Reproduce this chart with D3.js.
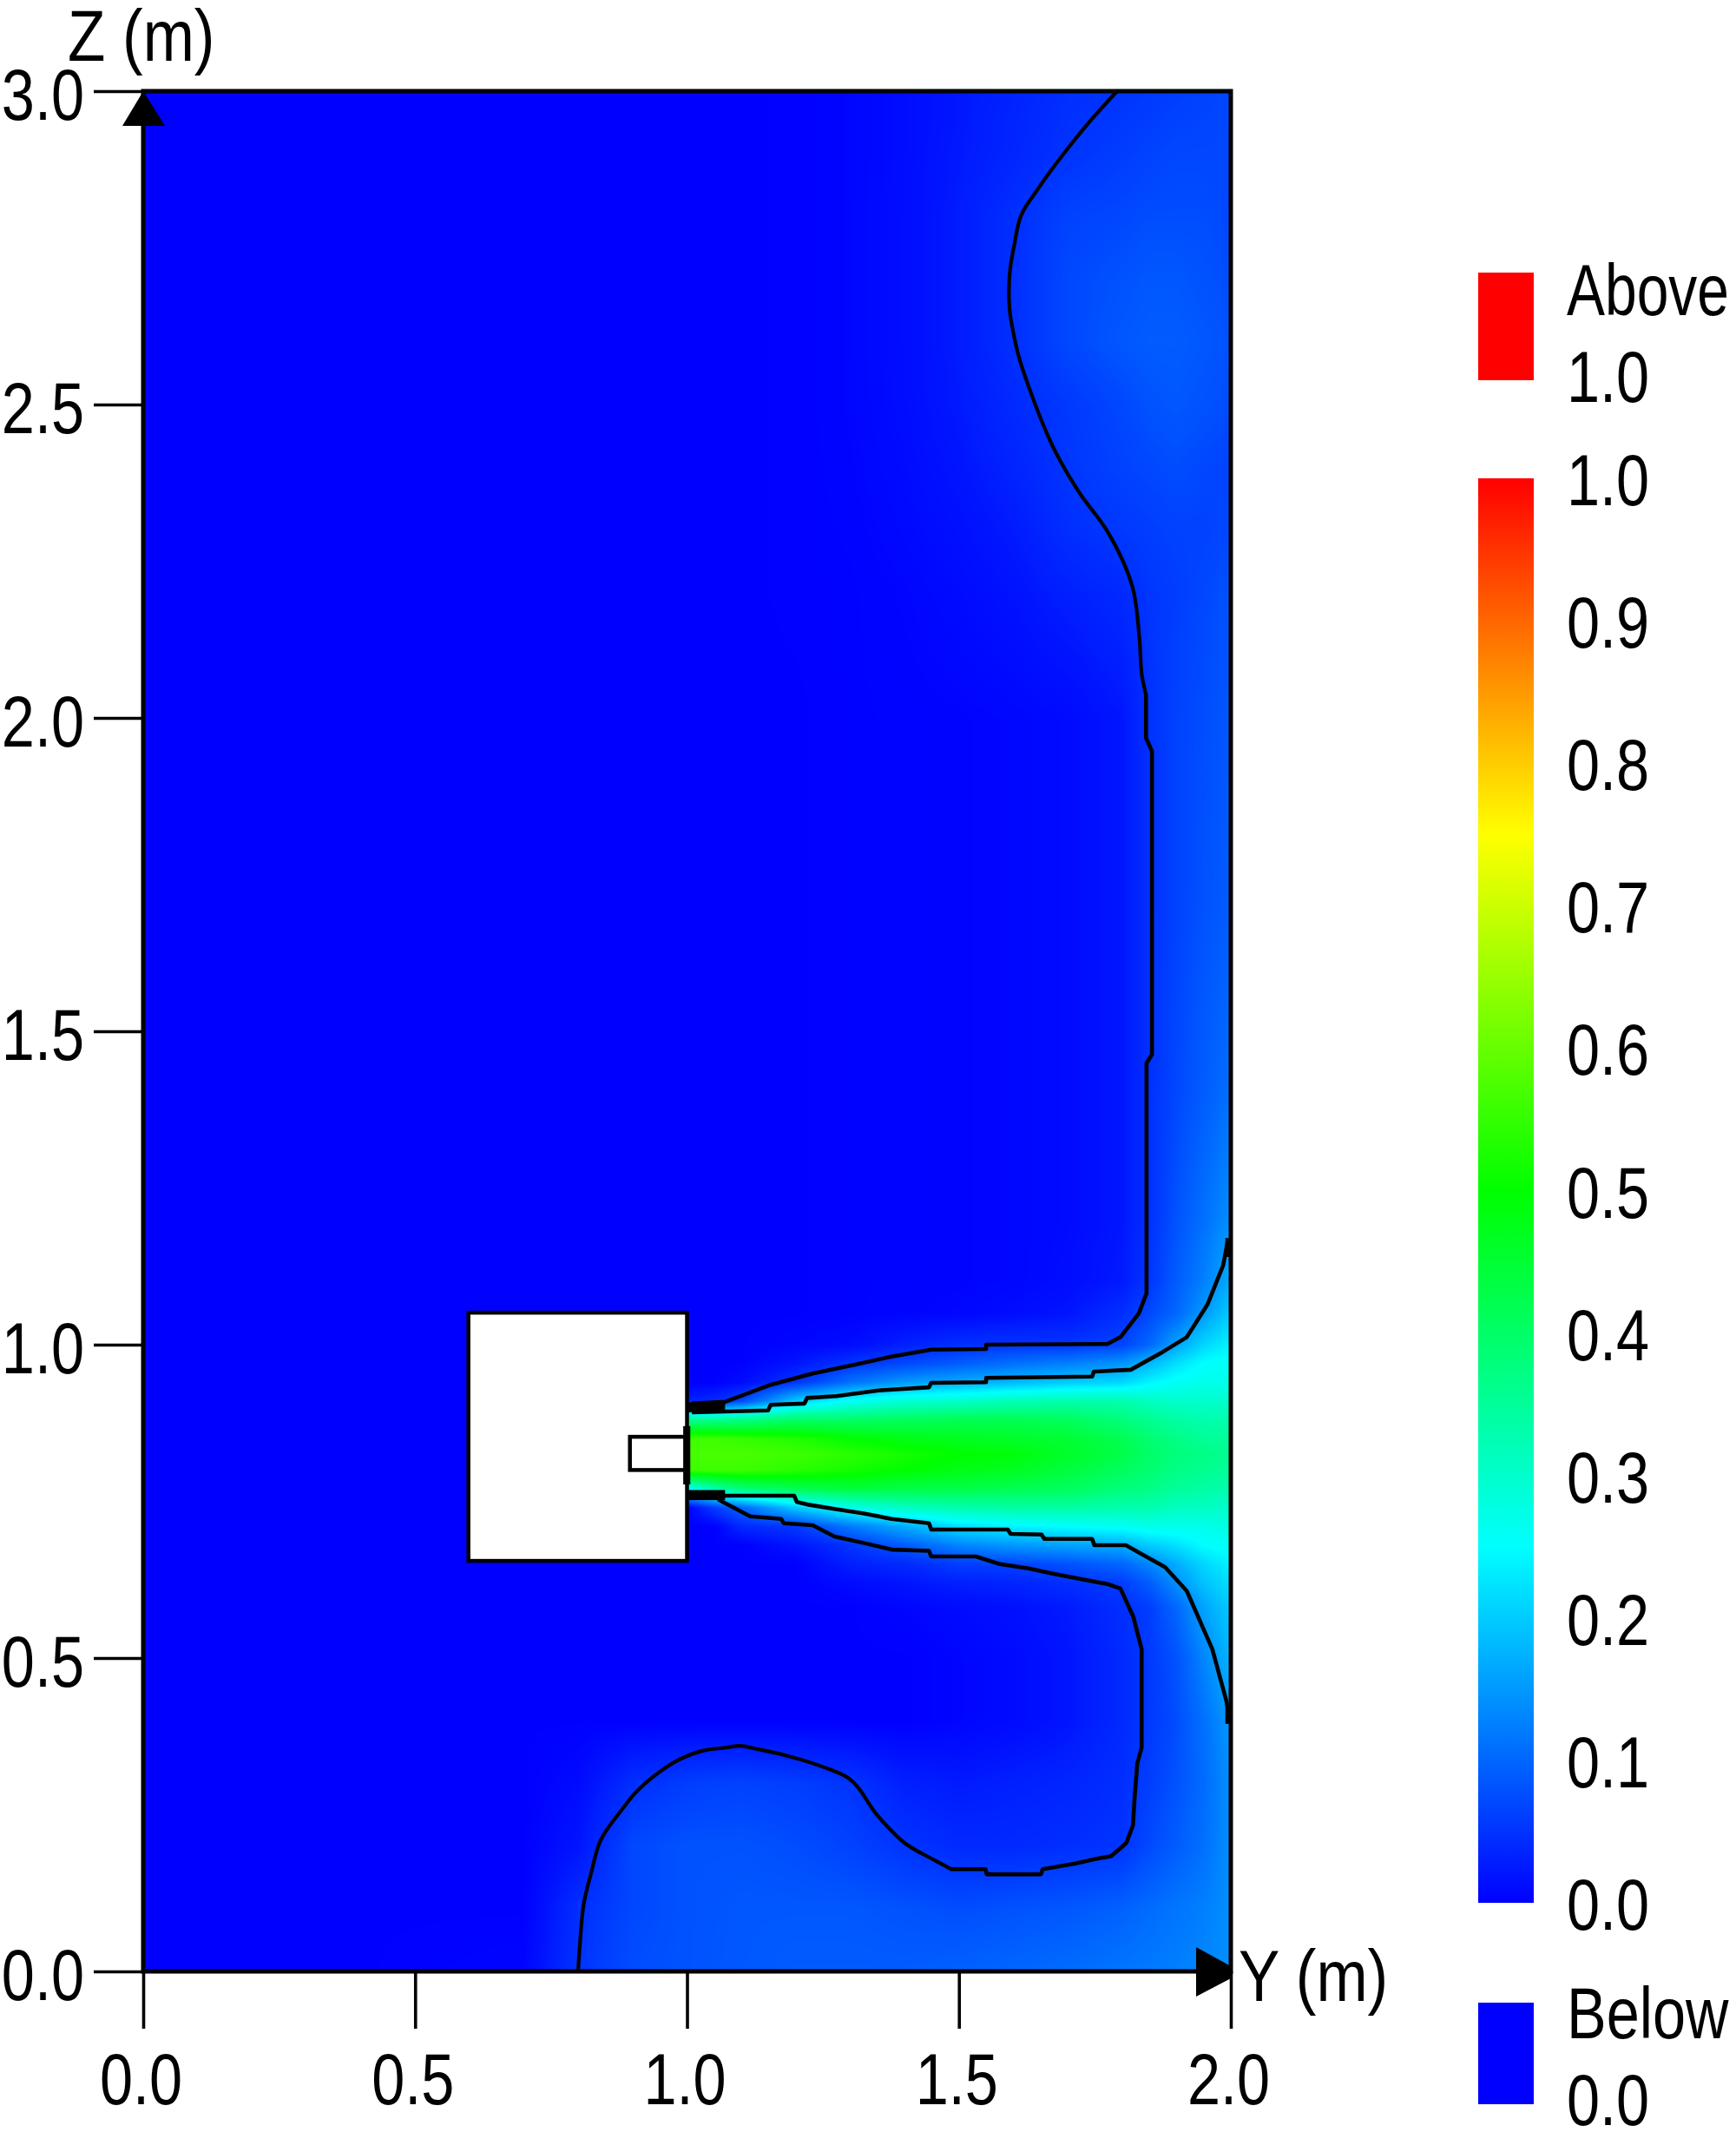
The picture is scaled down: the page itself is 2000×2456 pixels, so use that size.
<!DOCTYPE html>
<html><head><meta charset="utf-8">
<style>
html,body{margin:0;padding:0;background:#fff;width:2000px;height:2456px;overflow:hidden}
#wrap{position:relative;width:2000px;height:2456px}
canvas,svg{position:absolute;left:0;top:0}
text{font-family:"Liberation Sans",Arial,sans-serif;fill:#000}
</style>
<script src="https://cdn.jsdelivr.net/npm/d3@7"></script>
</head><body><div id="wrap"><canvas id="field"></canvas><svg id="chart" width="2000" height="2456"></svg></div>
<script>
// ---------- data (metres, and normalised concentration) ----------
const yTicks = [0, 0.5, 1.0, 1.5, 2.0];
const zTicks = [0, 0.5, 1.0, 1.5, 2.0, 2.5, 3.0];
const legendTicks = [0, 0.1, 0.2, 0.3, 0.4, 0.5, 0.6, 0.7, 0.8, 0.9, 1.0];
const colorStops = [0, 0.25, 0.5, 0.75, 1];
const colorValues = ["#0000ff", "#00ffff", "#00ff00", "#ffff00", "#ff0000"];

const gridY = [0, .4, .7, .8, .9, 1.0, 1.05, 1.1, 1.2, 1.3, 1.4, 1.5, 1.6, 1.7, 1.8, 1.85, 1.9, 1.95, 2.0];
const gridZ = [3.0, 2.9, 2.8, 2.7, 2.6, 2.5, 2.4, 2.3, 2.2, 2.0, 1.7, 1.4, 1.2, 1.1, 1.05, 1.0, .97, .94, .91, .88, .85, .825, .8, .77, .74, .71, .68, .65, .62, .58, .5, .4, .3, .2, .1, 0];
const fieldValues = [
[0,0,0,0,0,0,0,0,.001,.005,.012,.022,.033,.045,.05,.055,.06,.065,.07],
[0,0,0,0,0,0,0,0,.001,.005,.012,.024,.036,.05,.06,.065,.07,.07,.07],
[0,0,0,0,0,0,0,0,.001,.005,.013,.026,.045,.065,.07,.075,.075,.075,.07],
[0,0,0,0,0,0,0,0,.001,.005,.013,.026,.045,.07,.08,.085,.085,.08,.075],
[0,0,0,0,0,0,0,0,.001,.005,.013,.026,.045,.07,.085,.09,.09,.085,.08],
[0,0,0,0,0,0,0,0,.001,.005,.012,.024,.04,.055,.07,.08,.085,.08,.075],
[0,0,0,0,0,0,0,0,.001,.004,.01,.02,.034,.052,.065,.07,.075,.07,.065],
[0,0,0,0,0,0,0,0,.001,.003,.008,.015,.025,.045,.055,.06,.065,.065,.07],
[0,0,0,0,0,0,0,0,.001,.002,.005,.01,.018,.03,.04,.052,.06,.07,.08],
[0,0,0,0,0,0,0,0,0,.002,.003,.004,.006,.01,.022,.047,.065,.075,.085],
[0,0,0,0,0,0,0,0,0,.002,.003,.004,.006,.01,.022,.047,.065,.08,.09],
[0,0,0,0,0,0,0,0,0,.002,.003,.004,.006,.01,.022,.047,.07,.09,.11],
[0,0,0,0,0,0,0,0,0,.002,.003,.004,.006,.01,.022,.047,.08,.11,.14],
[0,0,0,0,0,0,0,0,0,.002,.003,.004,.006,.012,.025,.052,.09,.125,.17],
[0,0,0,0,0,0,0,0,0,.002,.004,.006,.012,.02,.045,.07,.1,.15,.2],
[0,0,0,0,0,0,0,0,.005,.01,.03,.045,.05,.05,.065,.1,.16,.21,.24],
[0,0,0,0,0,0,0,0,.02,.05,.07,.09,.11,.125,.145,.18,.22,.25,.26],
[0,0,0,0,0,0,0,.01,.05,.11,.15,.17,.18,.2,.21,.24,.26,.27,.27],
[0,0,0,0,0,.03,.04,.07,.2,.26,.29,.3,.32,.33,.33,.31,.3,.3,.3],
[0,0,0,0,0,.36,.36,.37,.4,.4,.41,.42,.42,.41,.38,.36,.34,.33,.33],
[0,0,0,0,0,.56,.56,.55,.53,.5,.48,.47,.46,.45,.42,.39,.37,.35,.35],
[0,0,0,0,0,.57,.57,.57,.56,.54,.52,.5,.49,.46,.43,.4,.38,.37,.36],
[0,0,0,0,0,.56,.56,.56,.54,.52,.5,.48,.47,.44,.41,.39,.37,.36,.35],
[0,0,0,0,0,.25,.33,.38,.42,.44,.43,.43,.42,.41,.38,.37,.35,.34,.33],
[0,0,0,0,0,0,.06,.1,.2,.27,.31,.33,.34,.34,.33,.33,.31,.31,.3],
[0,0,0,0,0,0,0,.04,.055,.12,.17,.22,.24,.25,.26,.27,.27,.27,.28],
[0,0,0,0,0,0,0,0,.02,.05,.09,.13,.15,.16,.17,.2,.22,.25,.26],
[0,0,0,0,0,0,0,0,0,.03,.04,.06,.065,.08,.1,.13,.17,.21,.24],
[0,0,0,0,0,0,0,0,0,.01,.02,.03,.035,.045,.06,.09,.14,.19,.22],
[0,0,0,0,0,0,0,0,0,0,.005,.01,.015,.025,.045,.06,.1,.16,.2],
[0,0,0,0,0,0,0,0,0,0,0,.005,.01,.02,.04,.055,.08,.13,.18],
[0,0,0,0,0,0,0,0,0,0,0,.005,.01,.02,.04,.055,.075,.11,.15],
[0,0,0,.01,.045,.06,.063,.065,.06,.05,.03,.025,.03,.035,.045,.06,.08,.105,.14],
[0,0,0,.02,.07,.08,.08,.08,.075,.065,.05,.04,.04,.045,.05,.072,.09,.11,.14],
[0,0,0,.045,.07,.08,.082,.085,.085,.085,.08,.075,.08,.085,.095,.105,.115,.125,.14],
[0,0,.005,.05,.075,.08,.083,.085,.09,.09,.09,.095,.1,.105,.115,.12,.125,.13,.14]
];

const contourTop = [[1.791,3.0],[1.737,2.948],[1.689,2.896],[1.647,2.846],[1.615,2.803],[1.601,2.751],[1.594,2.715],[1.592,2.68],[1.594,2.645],[1.6,2.615],[1.609,2.58],[1.631,2.522],[1.679,2.422],[1.721,2.36],[1.772,2.299],[1.82,2.206],[1.832,2.126],[1.837,2.065],[1.844,2.037]];
const contourUpperOuter = [[1.844,2.037],[1.844,1.968],[1.855,1.947],[1.855,1.463],[1.845,1.449],[1.845,1.082],[1.831,1.05],[1.797,1.012],[1.773,1.001],[1.55,1.0],[1.55,.993],[1.449,.992],[1.376,.981],[1.309,.968],[1.231,.954],[1.154,.936],[1.071,.909],[1.009,.906]];
const contourUpperInner = [[1.009,.892],[1.149,.895],[1.154,.904],[1.216,.906],[1.221,.915],[1.275,.918],[1.352,.927],[1.445,.932],[1.449,.939],[1.55,.94],[1.55,.947],[1.745,.949],[1.748,.957],[1.816,.96],[1.874,.988],[1.919,1.012],[1.957,1.064],[1.986,1.127],[1.995,1.169]];
const contourLowerInner = [[1.009,.759],[1.197,.759],[1.202,.749],[1.221,.745],[1.271,.738],[1.323,.731],[1.376,.722],[1.445,.715],[1.449,.705],[1.59,.705],[1.595,.698],[1.652,.697],[1.657,.69],[1.745,.69],[1.749,.68],[1.807,.68],[1.836,.666],[1.879,.645],[1.919,.607],[1.966,.514],[1.992,.431],[1.998,.396]];
const contourLowerOuter = [[1.057,.753],[1.116,.726],[1.173,.722],[1.178,.715],[1.231,.712],[1.271,.694],[1.328,.683],[1.376,.673],[1.445,.671],[1.449,.662],[1.531,.662],[1.575,.65],[1.628,.643],[1.676,.634],[1.773,.618],[1.797,.611],[1.821,.565],[1.836,.514],[1.836,.445],[1.836,.357],[1.828,.332],[1.823,.276],[1.82,.233],[1.808,.205],[1.78,.184],[1.749,.179],[1.714,.172],[1.654,.163],[1.651,.155],[1.551,.155],[1.549,.163],[1.486,.163]];
const contourBottom = [[1.486,.163],[1.456,.177],[1.4,.205],[1.352,.247],[1.296,.309],[1.248,.327],[1.18,.345],[1.127,.355],[1.097,.36],[1.071,.357],[1.028,.352],[.988,.339],[.937,.31],[.902,.282],[.881,.259],[.841,.209],[.824,.158],[.811,.112],[.803,.043],[.8,.004]];

// obstacles and thick contour lips: [y0, y1, z0, z1]
const obstacles = [[.598, 1.0, .655, 1.051], [.895, 1.0, .8, .853]];
const lips = [[1.0, 1.07, .892, .908], [1.0, 1.07, .752, .768], [.993, 1.006, .777, .87], [1.99, 2.0, .395, .42], [1.99, 2.0, 1.14, 1.17]];

// ---------- layout ----------
const W = 2000, H = 2456;
const x = d3.scaleLinear().domain([0, 2]).range([165, 1418]);
const y = d3.scaleLinear().domain([0, 3]).range([2271, 105]);
const legendY = d3.scaleLinear().domain([0, 1]).range([2192, 551]);
const color = d3.scaleLinear().domain(colorStops).range(colorValues).clamp(true);
const font = 84, squeeze = 0.815;

// ---------- field ----------
const cv = document.getElementById("field");
cv.width = W; cv.height = H;
const ctx = cv.getContext("2d");
const gx0 = x.range()[0], gx1 = x.range()[1], gy0 = y.range()[1], gy1 = y.range()[0];
const img = ctx.createImageData(gx1 - gx0, gy1 - gy0);
const colIdx = d3.scaleLinear().domain(gridY).range(d3.range(gridY.length)).clamp(true);
const rowIdx = d3.scaleLinear().domain(gridZ).range(d3.range(gridZ.length)).clamp(true);
const lut = d3.range(1001).map(i => d3.rgb(color(i / 1000)));
for (let py = 0; py < img.height; py++) {
  const fr = rowIdx(y.invert(gy0 + py + .5));
  const r0 = Math.min(Math.floor(fr), gridZ.length - 2), tr = fr - r0;
  for (let px = 0; px < img.width; px++) {
    const fc = colIdx(x.invert(gx0 + px + .5));
    const c0 = Math.min(Math.floor(fc), gridY.length - 2), tc = fc - c0;
    const a = fieldValues[r0], b = fieldValues[r0 + 1];
    const v = (a[c0] * (1 - tc) + a[c0 + 1] * tc) * (1 - tr) + (b[c0] * (1 - tc) + b[c0 + 1] * tc) * tr;
    const c = lut[Math.round(v * 1000)];
    const k = (py * img.width + px) * 4;
    img.data[k] = c.r; img.data[k + 1] = c.g; img.data[k + 2] = c.b; img.data[k + 3] = 255;
  }
}
ctx.putImageData(img, gx0, gy0);

// ---------- svg overlay ----------
const svg = d3.select("#chart");

const rectOf = d => ({ x: x(d[0]), y: y(d[3]), w: x(d[1]) - x(d[0]), h: y(d[2]) - y(d[3]) });
svg.selectAll(".obstacle").data(obstacles).join("rect").attr("class", "obstacle")
  .attr("x", d => rectOf(d).x).attr("y", d => rectOf(d).y)
  .attr("width", d => rectOf(d).w).attr("height", d => rectOf(d).h)
  .attr("fill", "#fff").attr("stroke", "#000").attr("stroke-width", 4.5);

const line = d3.line().x(d => x(d[0])).y(d => y(d[1]));
const smooth = d3.line().x(d => x(d[0])).y(d => y(d[1])).curve(d3.curveCatmullRom.alpha(1));
svg.selectAll(".contour").data([contourUpperOuter, contourUpperInner, contourLowerInner, contourLowerOuter])
  .join("path").attr("class", "contour").attr("d", line)
  .attr("fill", "none").attr("stroke", "#000").attr("stroke-width", 4.6).attr("stroke-linejoin", "round");
svg.selectAll(".contourSmooth").data([contourTop, contourBottom])
  .join("path").attr("class", "contourSmooth").attr("d", smooth)
  .attr("fill", "none").attr("stroke", "#000").attr("stroke-width", 4.2).attr("stroke-linecap", "round");
svg.selectAll(".lip").data(lips).join("rect").attr("class", "lip")
  .attr("x", d => rectOf(d).x).attr("y", d => rectOf(d).y)
  .attr("width", d => rectOf(d).w).attr("height", d => rectOf(d).h).attr("fill", "#000");

// frame
svg.append("rect").attr("x", x(0)).attr("y", y(3)).attr("width", x(2) - x(0)).attr("height", y(0) - y(3))
  .attr("fill", "none").attr("stroke", "#000").attr("stroke-width", 5);

// axes
const axY = svg.append("g").attr("transform", `translate(${x(0)},0)`)
  .call(d3.axisLeft(y).tickValues(zTicks).tickFormat(d3.format(".1f")).tickSize(57).tickSizeOuter(0));
axY.select(".domain").remove();
axY.selectAll("line").attr("stroke", "#000").attr("stroke-width", 3.6);
axY.selectAll("text").attr("x", null).attr("dy", null).attr("y", null).attr("fill", "#000")
  .attr("font-size", font).attr("text-anchor", "end").attr("transform", `translate(-68,32) scale(${squeeze},1)`);

const axX = svg.append("g").attr("transform", `translate(0,${y(0)})`)
  .call(d3.axisBottom(x).tickValues(yTicks).tickFormat(d3.format(".1f")).tickSize(66).tickSizeOuter(0));
axX.select(".domain").remove();
axX.selectAll("line").attr("stroke", "#000").attr("stroke-width", 3.6);
axX.selectAll("text").attr("x", null).attr("dy", null).attr("y", null).attr("fill", "#000")
  .attr("font-size", font).attr("text-anchor", "middle").attr("transform", `translate(-3,153) scale(${squeeze},1)`);

// axis arrows
const tri = d3.line();
svg.append("path").attr("fill", "#000").attr("d", tri([
  [x(0), y(3)], [x(0) + 25, y(3) + 40], [x(0) - 24, y(3) + 40]]) + "Z");
svg.append("path").attr("fill", "#000").attr("d", tri([
  [x(2) - 40, y(0) - 28], [x(2), y(0) - 6], [x(2), y(0) + 8], [x(2) - 40, y(0) + 29]]) + "Z");

function label(str, px, py, sq) {
  svg.append("text").text(str).attr("font-size", font).attr("text-anchor", "start")
    .attr("transform", `translate(${px},${py}) scale(${sq || squeeze},1)`);
}
label("Z (m)", 78, 70, 0.845);
label("Y (m)", x(2) + 9, 2305, 0.845);

// legend
const lx = 1703, lw = 64, ltx = 1805;
const defs = svg.append("defs");
const grad = defs.append("linearGradient").attr("id", "jet").attr("x1", 0).attr("x2", 0).attr("y1", 1).attr("y2", 0);
grad.selectAll("stop").data(colorStops).join("stop")
  .attr("offset", d => d).attr("stop-color", d => color(d));
svg.append("rect").attr("x", lx).attr("y", 314).attr("width", lw).attr("height", 124).attr("fill", color(1));
svg.append("rect").attr("x", lx).attr("y", legendY(1)).attr("width", lw).attr("height", legendY(0) - legendY(1)).attr("fill", "url(#jet)");
svg.append("rect").attr("x", lx).attr("y", 2307).attr("width", lw).attr("height", 117).attr("fill", color(0));
label("Above", ltx, 363, 0.785);
label("1.0", ltx, 463);
legendTicks.forEach(t => label(t.toFixed(1), ltx, legendY(t) + 31));
label("Below", ltx, 2348);
label("0.0", ltx, 2448);
</script></body></html>
